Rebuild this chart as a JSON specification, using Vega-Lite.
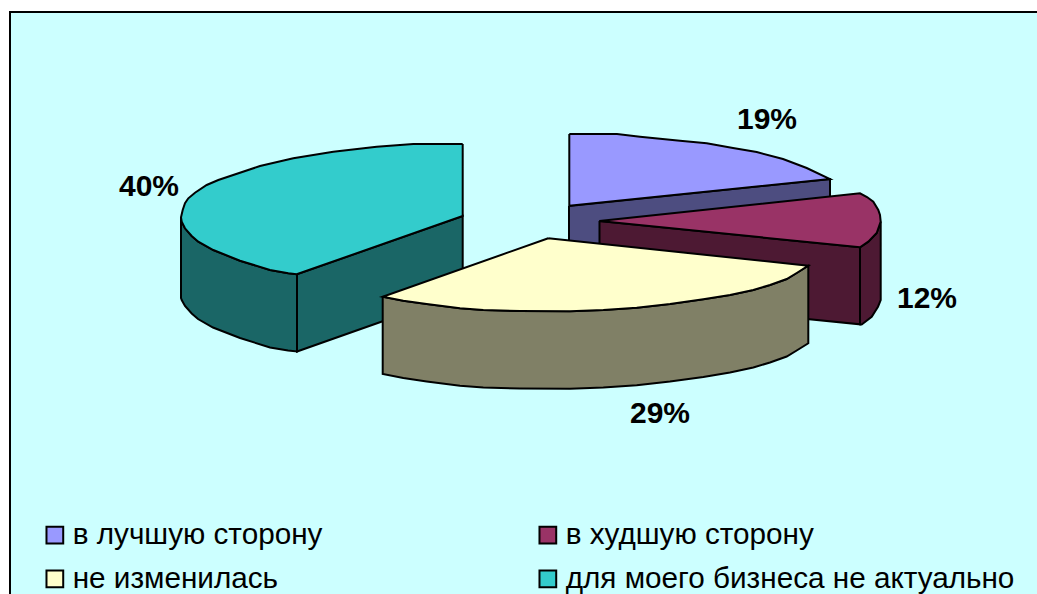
{"$schema":"https://vega.github.io/schema/vega-lite/v6.json","width":1028,"height":583,"padding":{"left":10,"top":12,"right":0,"bottom":0},"autosize":{"type":"none"},"background":"white","view":{"fill":"#CCFFFF","stroke":"#000000","strokeWidth":2},
"datasets":{"sides":[
{"slice":"в лучшую сторону","wall":"b1","seq":1,"x":569,"y":206},{"slice":"в лучшую сторону","wall":"b1","seq":2,"x":830,"y":179},{"slice":"в лучшую сторону","wall":"b1","seq":3,"x":830,"y":256},{"slice":"в лучшую сторону","wall":"b1","seq":4,"x":569,"y":283},{"slice":"в лучшую сторону","wall":"b1","seq":5,"x":569,"y":206},
{"slice":"для моего бизнеса не актуально","wall":"t1","seq":1,"x":297,"y":274.3},{"slice":"для моего бизнеса не актуально","wall":"t1","seq":2,"x":462.7,"y":216},{"slice":"для моего бизнеса не актуально","wall":"t1","seq":3,"x":462.7,"y":293},{"slice":"для моего бизнеса не актуально","wall":"t1","seq":4,"x":297,"y":351.5},{"slice":"для моего бизнеса не актуально","wall":"t1","seq":5,"x":297,"y":274.3},
{"slice":"для моего бизнеса не актуально","wall":"t2","seq":1,"x":181,"y":217.3},{"slice":"для моего бизнеса не актуально","wall":"t2","seq":1.5,"x":181.7,"y":221.7},{"slice":"для моего бизнеса не актуально","wall":"t2","seq":2,"x":185,"y":228.3},{"slice":"для моего бизнеса не актуально","wall":"t2","seq":2.5,"x":191.7,"y":236},{"slice":"для моего бизнеса не актуально","wall":"t2","seq":3,"x":198.3,"y":241.7},{"slice":"для моего бизнеса не актуально","wall":"t2","seq":4,"x":213.3,"y":250},{"slice":"для моего бизнеса не актуально","wall":"t2","seq":5,"x":240,"y":260.7},{"slice":"для моего бизнеса не актуально","wall":"t2","seq":6,"x":270,"y":270},{"slice":"для моего бизнеса не актуально","wall":"t2","seq":7,"x":288.3,"y":273.3},{"slice":"для моего бизнеса не актуально","wall":"t2","seq":8,"x":297,"y":274.3},{"slice":"для моего бизнеса не актуально","wall":"t2","seq":9,"x":297,"y":351.5},{"slice":"для моего бизнеса не актуально","wall":"t2","seq":10,"x":288,"y":350.5},{"slice":"для моего бизнеса не актуально","wall":"t2","seq":11,"x":270,"y":347.5},{"slice":"для моего бизнеса не актуально","wall":"t2","seq":12,"x":240,"y":338},{"slice":"для моего бизнеса не актуально","wall":"t2","seq":13,"x":213,"y":327.5},{"slice":"для моего бизнеса не актуально","wall":"t2","seq":14,"x":198,"y":319},{"slice":"для моего бизнеса не актуально","wall":"t2","seq":14.5,"x":191.7,"y":313.5},{"slice":"для моего бизнеса не актуально","wall":"t2","seq":15,"x":185,"y":306},{"slice":"для моего бизнеса не актуально","wall":"t2","seq":15.5,"x":181.7,"y":300},{"slice":"для моего бизнеса не актуально","wall":"t2","seq":16,"x":181,"y":298},{"slice":"для моего бизнеса не актуально","wall":"t2","seq":17,"x":181,"y":217.3},
{"slice":"в худшую сторону","wall":"h1","seq":1,"x":599.5,"y":221},{"slice":"в худшую сторону","wall":"h1","seq":2,"x":860,"y":247.3},{"slice":"в худшую сторону","wall":"h1","seq":3,"x":860,"y":324.3},{"slice":"в худшую сторону","wall":"h1","seq":4,"x":599.5,"y":298},{"slice":"в худшую сторону","wall":"h1","seq":5,"x":599.5,"y":221},
{"slice":"в худшую сторону","wall":"h2","seq":1,"x":860,"y":247.3},{"slice":"в худшую сторону","wall":"h2","seq":2,"x":868.3,"y":241.7},{"slice":"в худшую сторону","wall":"h2","seq":3,"x":876.7,"y":233},{"slice":"в худшую сторону","wall":"h2","seq":4,"x":880.7,"y":221.7},{"slice":"в худшую сторону","wall":"h2","seq":5,"x":880.7,"y":300},{"slice":"в худшую сторону","wall":"h2","seq":6,"x":878,"y":306.7},{"slice":"в худшую сторону","wall":"h2","seq":7,"x":871.7,"y":316.7},{"slice":"в худшую сторону","wall":"h2","seq":8,"x":861.7,"y":324.5},{"slice":"в худшую сторону","wall":"h2","seq":9,"x":860,"y":324.3},{"slice":"в худшую сторону","wall":"h2","seq":10,"x":860,"y":247.3},
{"slice":"не изменилась","wall":"n1","seq":1,"x":382.7,"y":296.7},{"slice":"не изменилась","wall":"n1","seq":2,"x":403.3,"y":300.7},{"slice":"не изменилась","wall":"n1","seq":3,"x":426.7,"y":304},{"slice":"не изменилась","wall":"n1","seq":4,"x":460,"y":308.3},{"slice":"не изменилась","wall":"n1","seq":5,"x":483.3,"y":310},{"slice":"не изменилась","wall":"n1","seq":6,"x":520,"y":311},{"slice":"не изменилась","wall":"n1","seq":7,"x":570,"y":311.3},{"slice":"не изменилась","wall":"n1","seq":8,"x":603.3,"y":310},{"slice":"не изменилась","wall":"n1","seq":9,"x":636.7,"y":307.7},{"slice":"не изменилась","wall":"n1","seq":9.5,"x":670,"y":304},{"slice":"не изменилась","wall":"n1","seq":10,"x":703.3,"y":299.3},{"slice":"не изменилась","wall":"n1","seq":10.5,"x":730,"y":295},{"slice":"не изменилась","wall":"n1","seq":11,"x":753.3,"y":290},{"slice":"не изменилась","wall":"n1","seq":11.5,"x":770,"y":285},{"slice":"не изменилась","wall":"n1","seq":12,"x":786.7,"y":279},{"slice":"не изменилась","wall":"n1","seq":12.5,"x":797.5,"y":272.5},{"slice":"не изменилась","wall":"n1","seq":13,"x":808.3,"y":265.7},{"slice":"не изменилась","wall":"n1","seq":14,"x":808.3,"y":343.3},{"slice":"не изменилась","wall":"n1","seq":14.5,"x":797.5,"y":350},{"slice":"не изменилась","wall":"n1","seq":15,"x":786.7,"y":356.5},{"slice":"не изменилась","wall":"n1","seq":15.5,"x":770,"y":362.5},{"slice":"не изменилась","wall":"n1","seq":16,"x":753.3,"y":367.5},{"slice":"не изменилась","wall":"n1","seq":16.5,"x":730,"y":372.5},{"slice":"не изменилась","wall":"n1","seq":17,"x":703.3,"y":377},{"slice":"не изменилась","wall":"n1","seq":17.5,"x":670,"y":381.5},{"slice":"не изменилась","wall":"n1","seq":18,"x":636.7,"y":385.2},{"slice":"не изменилась","wall":"n1","seq":19,"x":603.3,"y":387.5},{"slice":"не изменилась","wall":"n1","seq":20,"x":570,"y":388.8},{"slice":"не изменилась","wall":"n1","seq":21,"x":520,"y":388.5},{"slice":"не изменилась","wall":"n1","seq":22,"x":483.3,"y":387.5},{"slice":"не изменилась","wall":"n1","seq":23,"x":460,"y":385.8},{"slice":"не изменилась","wall":"n1","seq":24,"x":426.7,"y":381.5},{"slice":"не изменилась","wall":"n1","seq":25,"x":403.3,"y":378},{"slice":"не изменилась","wall":"n1","seq":26,"x":382.7,"y":374},{"slice":"не изменилась","wall":"n1","seq":27,"x":382.7,"y":296.7}
],"tops":[
{"slice":"в лучшую сторону","seq":1,"x":569.3,"y":134},{"slice":"в лучшую сторону","seq":2,"x":617,"y":134},{"slice":"в лучшую сторону","seq":3,"x":640,"y":136.7},{"slice":"в лучшую сторону","seq":4,"x":680,"y":140.7},{"slice":"в лучшую сторону","seq":5,"x":706.7,"y":143.3},{"slice":"в лучшую сторону","seq":6,"x":733,"y":148},{"slice":"в лучшую сторону","seq":7,"x":756.7,"y":152},{"slice":"в лучшую сторону","seq":8,"x":783,"y":159},{"slice":"в лучшую сторону","seq":9,"x":806.7,"y":168},{"slice":"в лучшую сторону","seq":10,"x":830,"y":179},{"slice":"в лучшую сторону","seq":11,"x":569.3,"y":205.7},{"slice":"в лучшую сторону","seq":12,"x":569.3,"y":134},
{"slice":"в худшую сторону","seq":1,"x":599.3,"y":221},{"slice":"в худшую сторону","seq":2,"x":860,"y":193.3},{"slice":"в худшую сторону","seq":2.5,"x":867,"y":197},{"slice":"в худшую сторону","seq":3,"x":873.3,"y":201.7},{"slice":"в худшую сторону","seq":4,"x":878.3,"y":210},{"slice":"в худшую сторону","seq":4.5,"x":880,"y":215},{"slice":"в худшую сторону","seq":5,"x":880.7,"y":221.7},{"slice":"в худшую сторону","seq":6,"x":876.7,"y":233},{"slice":"в худшую сторону","seq":7,"x":868.3,"y":241.7},{"slice":"в худшую сторону","seq":8,"x":860,"y":247.3},{"slice":"в худшую сторону","seq":9,"x":599.3,"y":221},
{"slice":"не изменилась","seq":1,"x":548.3,"y":238.3},{"slice":"не изменилась","seq":2,"x":808.3,"y":265.7},{"slice":"не изменилась","seq":2.5,"x":797.5,"y":272.5},{"slice":"не изменилась","seq":3,"x":786.7,"y":279},{"slice":"не изменилась","seq":3.5,"x":770,"y":285},{"slice":"не изменилась","seq":4,"x":753.3,"y":290},{"slice":"не изменилась","seq":4.5,"x":730,"y":295},{"slice":"не изменилась","seq":5,"x":703.3,"y":299.3},{"slice":"не изменилась","seq":5.5,"x":670,"y":304},{"slice":"не изменилась","seq":6,"x":636.7,"y":307.7},{"slice":"не изменилась","seq":7,"x":603.3,"y":310},{"slice":"не изменилась","seq":8,"x":570,"y":311.3},{"slice":"не изменилась","seq":9,"x":520,"y":311},{"slice":"не изменилась","seq":10,"x":483.3,"y":310},{"slice":"не изменилась","seq":11,"x":460,"y":308.3},{"slice":"не изменилась","seq":12,"x":426.7,"y":304},{"slice":"не изменилась","seq":13,"x":403.3,"y":300.7},{"slice":"не изменилась","seq":14,"x":382.7,"y":296.7},{"slice":"не изменилась","seq":15,"x":548.3,"y":238.3},
{"slice":"для моего бизнеса не актуально","seq":1,"x":462.7,"y":144},{"slice":"для моего бизнеса не актуально","seq":2,"x":413.3,"y":144},{"slice":"для моего бизнеса не актуально","seq":3,"x":376.7,"y":146.7},{"slice":"для моего бизнеса не актуально","seq":4,"x":333.3,"y":151.7},{"slice":"для моего бизнеса не актуально","seq":5,"x":293.3,"y":158.3},{"slice":"для моего бизнеса не актуально","seq":6,"x":260,"y":166},{"slice":"для моего бизнеса не актуально","seq":7,"x":218.3,"y":180},{"slice":"для моего бизнеса не актуально","seq":7.5,"x":206.7,"y":185},{"slice":"для моего бизнеса не актуально","seq":8,"x":195,"y":192.7},{"slice":"для моего бизнеса не актуально","seq":8.5,"x":188.3,"y":198.3},{"slice":"для моего бизнеса не актуально","seq":9,"x":185,"y":203.3},{"slice":"для моего бизнеса не актуально","seq":9.5,"x":182.7,"y":210},{"slice":"для моего бизнеса не актуально","seq":10,"x":181,"y":217.3},{"slice":"для моего бизнеса не актуально","seq":10.5,"x":181.7,"y":221.7},{"slice":"для моего бизнеса не актуально","seq":11,"x":185,"y":228.3},{"slice":"для моего бизнеса не актуально","seq":11.5,"x":191.7,"y":236},{"slice":"для моего бизнеса не актуально","seq":12,"x":198.3,"y":241.7},{"slice":"для моего бизнеса не актуально","seq":13,"x":213.3,"y":250},{"slice":"для моего бизнеса не актуально","seq":14,"x":240,"y":260.7},{"slice":"для моего бизнеса не актуально","seq":15,"x":270,"y":270},{"slice":"для моего бизнеса не актуально","seq":16,"x":288.3,"y":273.3},{"slice":"для моего бизнеса не актуально","seq":17,"x":296.7,"y":274.3},{"slice":"для моего бизнеса не актуально","seq":18,"x":462.7,"y":216},{"slice":"для моего бизнеса не актуально","seq":19,"x":462.7,"y":144}
],"labels":[
{"slice":"в лучшую сторону","share":"19%","x":767,"y":129},{"slice":"в худшую сторону","share":"12%","x":927,"y":308},{"slice":"не изменилась","share":"29%","x":660,"y":423},{"slice":"для моего бизнеса не актуально","share":"40%","x":149,"y":196}
]},
"layer":[
{"data":{"name":"sides"},"mark":{"type":"line","stroke":"#000000","strokeWidth":2,"strokeJoin":"miter","interpolate":"linear"},"encoding":{"x":{"field":"x","type":"quantitative","axis":null,"scale":{"domain":[10,1038],"nice":false,"zero":false}},"y":{"field":"y","type":"quantitative","axis":null,"scale":{"domain":[595,12],"nice":false,"zero":false}},"order":{"field":"seq","type":"quantitative"},"detail":{"field":"wall"},"fill":{"field":"slice","type":"nominal","legend":null,"scale":{"domain":["в лучшую сторону","в худшую сторону","не изменилась","для моего бизнеса не актуально"],"range":["#4D4D80","#4D1933","#808066","#1A6666"]}}}},
{"data":{"name":"tops"},"mark":{"type":"line","stroke":"#000000","strokeWidth":2,"strokeJoin":"miter","interpolate":"linear"},"encoding":{"x":{"field":"x","type":"quantitative","axis":null},"y":{"field":"y","type":"quantitative","axis":null},"order":{"field":"seq","type":"quantitative"},"detail":{"field":"slice"},"fill":{"field":"slice","type":"nominal","scale":{"domain":["в лучшую сторону","не изменилась","в худшую сторону","для моего бизнеса не актуально"],"range":["#9999FF","#FFFFCC","#993366","#33CCCC"]},"legend":{"title":null,"orient":"none","legendX":30,"legendY":508,"columns":2,"columnPadding":210,"rowPadding":13,"symbolType":"square","symbolSize":280,"symbolStrokeColor":"#000000","symbolStrokeWidth":2,"labelFont":"Liberation Sans","labelFontSize":29.7,"labelColor":"#000000","labelOffset":3,"labelLimit":600,"symbolOpacity":1}}}},
{"data":{"name":"labels"},"mark":{"type":"text","font":"Liberation Sans","fontWeight":"bold","fontSize":30,"color":"#000000","align":"center","baseline":"alphabetic"},"encoding":{"x":{"field":"x","type":"quantitative","axis":null},"y":{"field":"y","type":"quantitative","axis":null},"text":{"field":"share","type":"nominal"}}}
],"resolve":{"scale":{"fill":"independent"}}}
